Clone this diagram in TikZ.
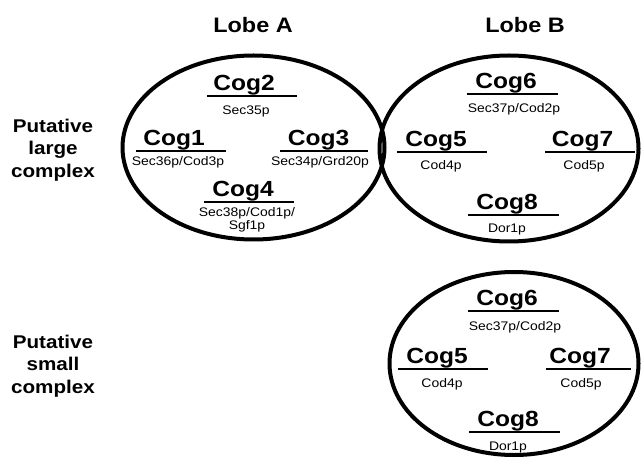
\documentclass[tikz,border=0pt]{standalone}
\usepackage{fontspec}
\setmainfont{Liberation Sans}[FakeStretch=1.12]
\begin{document}
\begin{tikzpicture}[x=1bp,y=-1bp,
  ell/.style={line width=4bp},
  ul/.style={line width=2.2bp},
  cog/.style={font=\bfseries\fontsize{22}{22}\selectfont, anchor=base, inner sep=0},
  lobe/.style={font=\bfseries\fontsize{21}{21}\selectfont, anchor=base, inner sep=0},
  prot/.style={font=\fontsize{12.5}{13}\selectfont, anchor=base, inner sep=0, align=center},
  side/.style={font=\bfseries\fontsize{18.5}{22.5}\selectfont, align=center, inner sep=0}]
\useasboundingbox (0,0) rectangle (641,459);

% headings
\node[lobe] (lobeA) at (253,33) {Lobe A};
\node[lobe] (lobeB) at (525,33) {Lobe B};
\node[side] (large) at (53,150) {Putative\\large\\complex};
\node[side] (small) at (53,366) {Putative\\small\\complex};

% ellipses
\draw[ell] (253.5,147.5) ellipse [x radius=131, y radius=92];
\draw[ell] (509,148.5) ellipse [x radius=129.5, y radius=93];
\draw[ell] (514,363.5) ellipse [x radius=124.5, y radius=91.5];

% Lobe A
\node[cog] (cog2) at (244,90.5) {Cog2};
\draw[ul] (207,96) -- (297,96);
\node[prot] (p2) at (246,114.5) {Sec35p};
\node[cog] (cog1) at (174,145.5) {Cog1};
\draw[ul] (136,151) -- (226,151);
\node[prot] (p1) at (178,166) {Sec36p/Cod3p};
\node[cog] (cog3) at (318.5,145.5) {Cog3};
\draw[ul] (280,151) -- (368,151);
\node[prot] (p3) at (320,166) {Sec34p/Grd20p};
\node[cog] (cog4) at (243,196.5) {Cog4};
\draw[ul] (204,202) -- (294,202);
\node[prot, anchor=center] (p4) at (247,219.5) {Sec38p/Cod1p/\\Sgf1p};

% Lobe B (large complex)
\node[cog] (cog6) at (506,88.5) {Cog6};
\draw[ul] (467,94) -- (558,94);
\node[prot] (p6) at (514,113) {Sec37p/Cod2p};
\node[cog] (cog5) at (436,146.5) {Cog5};
\draw[ul] (397,152) -- (487,152);
\node[prot] (p5) at (441,170) {Cod4p};
\node[cog] (cog7) at (582.5,146.5) {Cog7};
\draw[ul] (545,152) -- (635,152);
\node[prot] (p7) at (584,170) {Cod5p};
\node[cog] (cog8) at (507,209.5) {Cog8};
\draw[ul] (468,215) -- (559,215);
\node[prot] (p8) at (507,233) {Dor1p};

% small complex
\begin{scope}[shift={(1,217)}]
\node[cog] (scog6) at (506,88.5) {Cog6};
\draw[ul] (467,94) -- (558,94);
\node[prot] (sp6) at (514,113) {Sec37p/Cod2p};
\node[cog] (scog5) at (436,146.5) {Cog5};
\draw[ul] (397,152) -- (487,152);
\node[prot] (sp5) at (441,170) {Cod4p};
\node[cog] (scog7) at (579,146.5) {Cog7};
\draw[ul] (545,152) -- (630,152);
\node[prot] (sp7) at (580,170) {Cod5p};
\node[cog] (scog8) at (507,209.5) {Cog8};
\draw[ul] (468,215) -- (559,215);
\node[prot] (sp8) at (507,233) {Dor1p};
\end{scope}
\end{tikzpicture}
\end{document}
